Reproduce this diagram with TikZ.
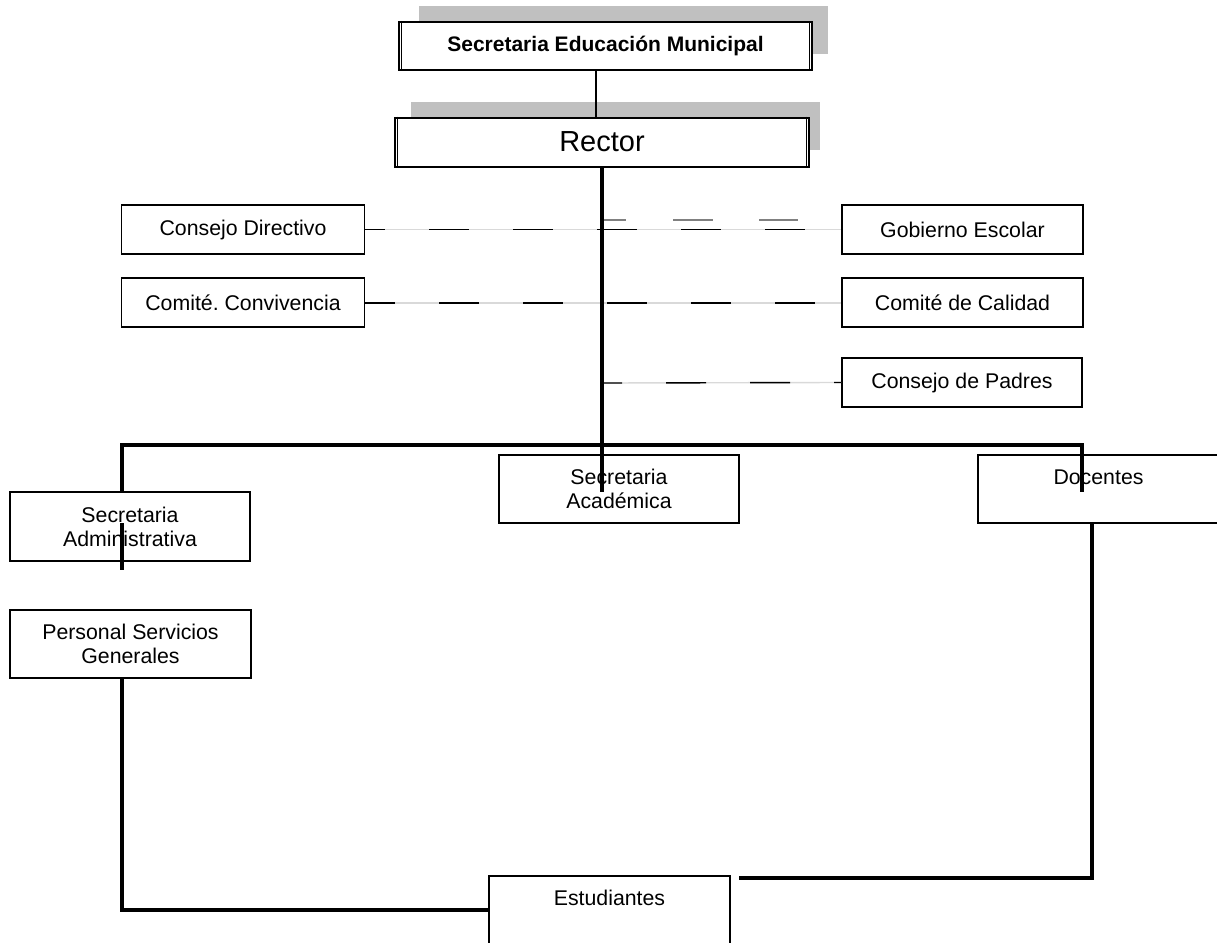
\documentclass[tikz,border=0pt]{standalone}
\usepackage{fontspec}
\setmainfont{Liberation Sans}
\definecolor{shadowgray}{RGB}{192,192,192}
\frenchspacing
\begin{document}
\begin{tikzpicture}[x=1pt,y=-1pt,
  box/.style={draw=black, line width=1.6pt, fill=white, inner sep=0pt, align=center,
    font=\fontsize{21.3}{24}\selectfont},
  topbox/.style={box, line width=2pt},
  thickline/.style={line width=4pt},
  thinline/.style={line width=1.5pt},
  faint/.style={line width=1.4pt, gray!30},
  dashdark/.style={line width=1.4pt, black, dash pattern=on 40pt off 44pt},
]
\useasboundingbox (0,0) rectangle (1217,942);
% shadows
\fill[shadowgray] (419,6) rectangle (828,54);
\fill[shadowgray] (411,102) rectangle (820,150);
% top boxes
\node[topbox, minimum width=413pt, minimum height=48pt, font=\bfseries\fontsize{21}{24}\selectfont] (sem) at (605.5,46) {Secretaria Educación Municipal};
\node[topbox, minimum width=414pt, minimum height=49pt, font=\fontsize{29}{32}\selectfont] (rector) at (602,142) {Rector};
\foreach \n in {sem,rector}{
  \draw[line width=1pt] ([xshift=3.5pt]\n.north west) -- ([xshift=3.5pt]\n.south west);
  \draw[line width=1pt] ([xshift=-3.5pt]\n.north east) -- ([xshift=-3.5pt]\n.south east);
}
% side boxes
\node[box, minimum width=243pt, minimum height=49pt] (cd) at (243,229.5) {Consejo Directivo};
\node[box, minimum width=241pt, minimum height=49pt] (ge) at (962.5,229.5) {Gobierno Escolar};
\node[box, minimum width=243pt, minimum height=49pt] (cc) at (243,302.5) {Comité. Convivencia};
\node[box, minimum width=241pt, minimum height=49pt] (cq) at (962.5,302.5) {Comité de Calidad};
\node[box, minimum width=240pt, minimum height=49pt] (cp) at (962,382.5) {Consejo de Padres};
% lower boxes
\node[box, minimum width=240pt, minimum height=69pt] (sa) at (130,526.5) {Secretaria\\Administrativa};
\node[box, minimum width=241pt, minimum height=68pt] (psg) at (130.5,644) {Personal Servicios\\Generales};
\node[box, minimum width=240pt, minimum height=68pt] (sac) at (619,489) {Secretaria\\Académica};
\node[box, minimum width=241pt, minimum height=68pt] (doc) at (1098.5,489) {Docentes\\~};
\node[box, minimum width=241pt, minimum height=68pt] (est) at (609.5,910) {Estudiantes\\~};
% coordinates
\coordinate (xsem) at (596,0);
\coordinate (xtrunk) at (602,0);
\coordinate (trunkend) at (602,492);
\coordinate (bL) at (122,445);
\coordinate (bR) at (1082,445);
\coordinate (docend) at (1082,492);
\coordinate (saA) at (122,523);
\coordinate (saB) at (122,570);
\coordinate (xD) at (1092,0);
\coordinate (estR) at (739,878);
\coordinate (upA) at (602,220);
\coordinate (upB) at (798,220);
\coordinate (padA) at (602,383);
% sem - rector
\draw[thinline] (sem.south -| xsem) -- (rector.north -| xsem);
% dashed relations
\draw[faint] (cd.east) -- (ge.west);
\draw[dashdark, dash phase=20pt] (cd.east) -- (ge.west);
\draw[faint, line width=2pt] (cc.east) -- (cq.west);
\draw[dashdark, line width=2pt, dash phase=10pt] (cc.east) -- (cq.west);
\draw[faint] (padA) -- (cp.west);
\draw[dashdark, dash phase=20pt] (padA) -- (cp.west);
\draw[line width=1.5pt, gray, dash pattern=on 24pt off 47pt on 40pt off 46pt on 40pt off 200pt] (upA) -- (upB);
% trunk and bus
\draw[thickline] (rector.south -| xtrunk) -- (trunkend);
\draw[thickline] (sa.north -| bL) -- (bL) -- (bR) -- (docend);
\draw[thickline] (saA) -- (saB);
% bottom connectors
\draw[thickline] (psg.south -| bL) |- (est.west);
\draw[thickline] (doc.south -| xD) |- (estR);
\end{tikzpicture}
\end{document}
